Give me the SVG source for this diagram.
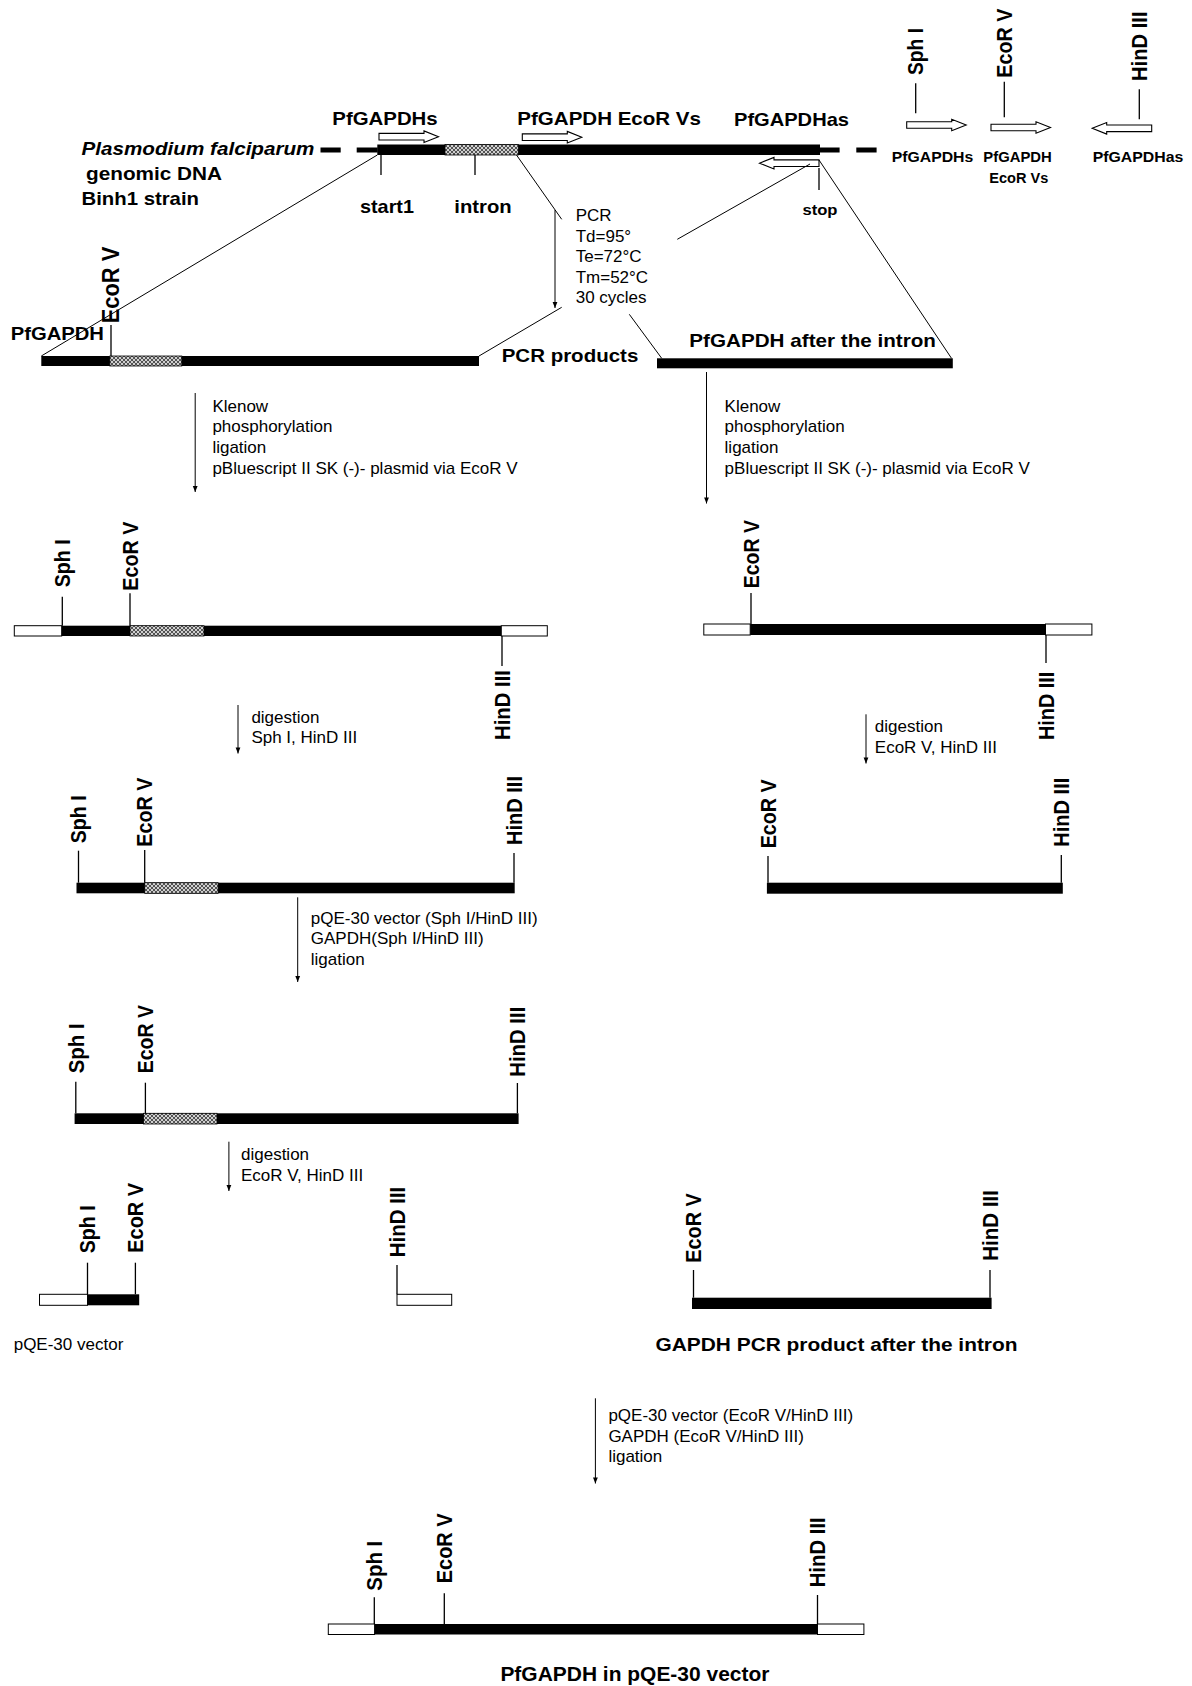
<svg xmlns="http://www.w3.org/2000/svg" width="1192" height="1686" viewBox="0 0 1192 1686">
<style>
.b{font-family:"Liberation Sans",Arial,sans-serif;font-weight:bold;fill:#000}
.r{font-family:"Liberation Sans",Arial,sans-serif;font-size:17px;fill:#000}
.lbl{font-size:18.6px}
.sm{font-size:15px}
.site{font-size:21.5px}
.ln{stroke:#000;stroke-width:1;fill:none}
.tick{stroke:#000;stroke-width:1.3}
.blk{fill:#000}
.wht{fill:#fff;stroke:#000;stroke-width:1}
.itr{fill:url(#hatch);stroke:#000;stroke-width:0.8}
.arr{stroke:#000;stroke-width:1;fill:none;marker-end:url(#ah)}
.pr{fill:#fff;stroke:#000;stroke-width:1.1}
</style>
<defs>
<pattern id="hatch" width="4" height="4" patternUnits="userSpaceOnUse">
<rect width="4" height="4" fill="#d0d0d0"/>
<path d="M0,0 L4,4 M4,0 L0,4" stroke="#333" stroke-width="0.8"/>
</pattern>
<marker id="ah" viewBox="0 0 10 10" refX="10" refY="5" markerWidth="7" markerHeight="6" orient="auto" markerUnits="userSpaceOnUse">
<path d="M0,1 L10,5 L0,9 Z" fill="#000"/>
</marker>
<path id="primer" d="M0,-3.3 H45 V-5.8 L59.5,0 L45,5.8 V3.3 H0 Z"/>
</defs>
<rect width="1192" height="1686" fill="#fff"/>

<!-- genomic DNA -->
<g id="genomic">
<text class="b lbl" x="81.5" y="155" font-style="italic" textLength="233" lengthAdjust="spacingAndGlyphs">Plasmodium falciparum</text>
<text class="b lbl" x="86" y="180" textLength="136" lengthAdjust="spacingAndGlyphs">genomic DNA</text>
<text class="b lbl" x="81.5" y="205" textLength="117.5" lengthAdjust="spacingAndGlyphs">Binh1 strain</text>
<rect class="blk" x="320.5" y="147.5" width="20.2" height="5"/>
<rect class="blk" x="356.7" y="147.5" width="21" height="5"/>
<rect class="blk" x="377.3" y="144.5" width="442.7" height="10.5"/>
<rect class="itr" x="445" y="144.5" width="73.3" height="10.5"/>
<rect class="blk" x="820" y="147.5" width="19.6" height="5"/>
<rect class="blk" x="856.3" y="147.5" width="20.3" height="5"/>
<line class="tick" x1="381" y1="155" x2="381" y2="175"/>
<line class="tick" x1="475" y1="155" x2="475" y2="175"/>
<line class="tick" x1="819" y1="168" x2="819" y2="190"/>
<text class="b lbl" x="360" y="212.7" textLength="54" lengthAdjust="spacingAndGlyphs">start1</text>
<text class="b lbl" x="454.3" y="212.7" textLength="57.4" lengthAdjust="spacingAndGlyphs">intron</text>
<text class="b sm" x="802.5" y="214.5" textLength="35" lengthAdjust="spacingAndGlyphs">stop</text>
<text class="b lbl" x="332.3" y="125" textLength="105.4" lengthAdjust="spacingAndGlyphs">PfGAPDHs</text>
<text class="b lbl" x="517.3" y="125" textLength="183.7" lengthAdjust="spacingAndGlyphs">PfGAPDH EcoR Vs</text>
<text class="b lbl" x="734" y="125.5" textLength="115" lengthAdjust="spacingAndGlyphs">PfGAPDHas</text>
<use href="#primer" class="pr" transform="translate(379,136.7)"/>
<use href="#primer" class="pr" transform="translate(522.3,137.2)"/>
<use href="#primer" class="pr" transform="translate(819,163.2) scale(-1,1)"/>
</g>

<!-- primer legend -->
<g id="legend">
<line class="tick" x1="915.7" y1="83.3" x2="915.7" y2="113.3"/>
<text class="b site" transform="translate(923.4,75) rotate(-90)" textLength="47" lengthAdjust="spacingAndGlyphs">Sph I</text>
<line class="tick" x1="1004.3" y1="81.7" x2="1004.3" y2="117.3"/>
<text class="b site" transform="translate(1012,77.7) rotate(-90)" textLength="69" lengthAdjust="spacingAndGlyphs">EcoR V</text>
<line class="tick" x1="1139.3" y1="89.3" x2="1139.3" y2="119.3"/>
<text class="b site" transform="translate(1147,81) rotate(-90)" textLength="69.5" lengthAdjust="spacingAndGlyphs">HinD III</text>
<use href="#primer" class="pr" transform="translate(906.7,125)"/>
<use href="#primer" class="pr" transform="translate(991,127.5)"/>
<use href="#primer" class="pr" transform="translate(1151.7,128.3) scale(-1,1)"/>
<text class="b sm" x="891.7" y="162" textLength="81.6" lengthAdjust="spacingAndGlyphs">PfGAPDHs</text>
<text class="b sm" x="983.3" y="162" textLength="68.4" lengthAdjust="spacingAndGlyphs">PfGAPDH</text>
<text class="b sm" x="989.3" y="183" textLength="59" lengthAdjust="spacingAndGlyphs">EcoR Vs</text>
<text class="b sm" x="1092.7" y="162" textLength="90.6" lengthAdjust="spacingAndGlyphs">PfGAPDHas</text>
</g>

<!-- PCR product with intron -->
<g id="pcr-intron">
<text class="b lbl" x="10.7" y="340" textLength="93.3" lengthAdjust="spacingAndGlyphs">PfGAPDH</text>
<line class="tick" x1="111" y1="325" x2="111" y2="356"/>
<text class="b" font-size="23" transform="translate(119.4,323.3) rotate(-90)" textLength="76.6" lengthAdjust="spacingAndGlyphs">EcoR V</text>
<rect class="blk" x="41.3" y="356" width="437.7" height="10"/>
<rect class="itr" x="109.8" y="356" width="72" height="10"/>
<text class="b lbl" x="501.7" y="361.7" textLength="136.6" lengthAdjust="spacingAndGlyphs">PCR products</text>
</g>

<!-- PCR product after intron -->
<g id="pcr-after">
<text class="b lbl" x="689.3" y="346.7" textLength="246.7" lengthAdjust="spacingAndGlyphs">PfGAPDH after the intron</text>
<rect class="blk" x="657" y="358.3" width="295.8" height="10"/>
</g>

<!-- pBluescript clone (intron) -->
<g id="pbs-intron">
<rect class="wht" x="14.3" y="625.7" width="47.4" height="10.3"/>
<rect class="blk" x="61.7" y="625.7" width="439.6" height="10.3"/>
<rect class="itr" x="130" y="625.7" width="74" height="10.3"/>
<rect class="wht" x="501.3" y="625.7" width="46" height="10.3"/>
<line class="tick" x1="62.3" y1="596.7" x2="62.3" y2="625.7"/>
<text class="b site" transform="translate(70,587.3) rotate(-90)" textLength="48" lengthAdjust="spacingAndGlyphs">Sph I</text>
<line class="tick" x1="130" y1="593.3" x2="130" y2="625.7"/>
<text class="b site" transform="translate(137.7,590.7) rotate(-90)" textLength="69" lengthAdjust="spacingAndGlyphs">EcoR V</text>
<line class="tick" x1="502" y1="636" x2="502" y2="666"/>
<text class="b site" transform="translate(509.7,740) rotate(-90)" textLength="70" lengthAdjust="spacingAndGlyphs">HinD III</text>
</g>

<!-- pBluescript clone (after intron) -->
<g id="pbs-after">
<rect class="wht" x="703.8" y="624" width="46.4" height="11"/>
<rect class="blk" x="750.2" y="624" width="295.3" height="11"/>
<rect class="wht" x="1045.5" y="624" width="46.4" height="11"/>
<line class="tick" x1="751" y1="593" x2="751" y2="624"/>
<text class="b site" transform="translate(758.7,588.3) rotate(-90)" textLength="68.3" lengthAdjust="spacingAndGlyphs">EcoR V</text>
<line class="tick" x1="1046" y1="635" x2="1046" y2="663"/>
<text class="b site" transform="translate(1053.7,740) rotate(-90)" textLength="68.3" lengthAdjust="spacingAndGlyphs">HinD III</text>
</g>

<!-- SphI/HindIII fragment -->
<g id="frag-sph">
<rect class="blk" x="76.5" y="882.7" width="438.2" height="10.6"/>
<rect class="itr" x="144.7" y="882.7" width="73.4" height="10.6"/>
<line class="tick" x1="78.5" y1="850.7" x2="78.5" y2="882.7"/>
<text class="b site" transform="translate(86.2,843.3) rotate(-90)" textLength="48" lengthAdjust="spacingAndGlyphs">Sph I</text>
<line class="tick" x1="144.7" y1="850" x2="144.7" y2="882.7"/>
<text class="b site" transform="translate(152.4,846.7) rotate(-90)" textLength="69" lengthAdjust="spacingAndGlyphs">EcoR V</text>
<line class="tick" x1="514" y1="853" x2="514" y2="882.7"/>
<text class="b site" transform="translate(521.7,845) rotate(-90)" textLength="69" lengthAdjust="spacingAndGlyphs">HinD III</text>
</g>

<!-- EcoRV/HindIII fragment (after intron) -->
<g id="frag-ecor">
<rect class="blk" x="766.9" y="882.7" width="295.9" height="11"/>
<line class="tick" x1="768" y1="856" x2="768" y2="882.7"/>
<text class="b site" transform="translate(775.7,848.3) rotate(-90)" textLength="69" lengthAdjust="spacingAndGlyphs">EcoR V</text>
<line class="tick" x1="1061.3" y1="855" x2="1061.3" y2="882.7"/>
<text class="b site" transform="translate(1069,846.7) rotate(-90)" textLength="69" lengthAdjust="spacingAndGlyphs">HinD III</text>
</g>

<!-- pQE-30 with intron -->
<g id="pqe-intron">
<rect class="blk" x="74.6" y="1113.3" width="444" height="10.7"/>
<rect class="itr" x="143.5" y="1113.3" width="73.5" height="10.7"/>
<line class="tick" x1="75.8" y1="1081.7" x2="75.8" y2="1113.3"/>
<text class="b site" transform="translate(83.5,1073.3) rotate(-90)" textLength="50" lengthAdjust="spacingAndGlyphs">Sph I</text>
<line class="tick" x1="145.4" y1="1082.7" x2="145.4" y2="1113.3"/>
<text class="b site" transform="translate(153.1,1073.3) rotate(-90)" textLength="68.3" lengthAdjust="spacingAndGlyphs">EcoR V</text>
<line class="tick" x1="517.4" y1="1083" x2="517.4" y2="1113.3"/>
<text class="b site" transform="translate(525.1,1076.7) rotate(-90)" textLength="70" lengthAdjust="spacingAndGlyphs">HinD III</text>
</g>

<!-- pQE-30 vector pieces -->
<g id="pqe-vector">
<rect class="wht" x="39.5" y="1294.3" width="48" height="11"/>
<rect class="blk" x="87.5" y="1294.3" width="51.7" height="11"/>
<line class="tick" x1="87.5" y1="1262.7" x2="87.5" y2="1294.3"/>
<text class="b site" transform="translate(95.2,1253.3) rotate(-90)" textLength="48" lengthAdjust="spacingAndGlyphs">Sph I</text>
<line class="tick" x1="135.4" y1="1262.7" x2="135.4" y2="1294.3"/>
<text class="b site" transform="translate(143.1,1252.7) rotate(-90)" textLength="69.7" lengthAdjust="spacingAndGlyphs">EcoR V</text>
<rect class="wht" x="397" y="1294.3" width="54.7" height="11"/>
<line class="tick" x1="397" y1="1265" x2="397" y2="1294.3"/>
<text class="b site" transform="translate(404.7,1257.3) rotate(-90)" textLength="70.6" lengthAdjust="spacingAndGlyphs">HinD III</text>
<text class="r" x="13.7" y="1350">pQE-30 vector</text>
</g>

<!-- GAPDH PCR product after intron (cut) -->
<g id="gapdh-cut">
<rect class="blk" x="692" y="1297.7" width="299.6" height="11.3"/>
<line class="tick" x1="693.5" y1="1270" x2="693.5" y2="1297.7"/>
<text class="b site" transform="translate(701.2,1262.7) rotate(-90)" textLength="69.4" lengthAdjust="spacingAndGlyphs">EcoR V</text>
<line class="tick" x1="990" y1="1270" x2="990" y2="1297.7"/>
<text class="b site" transform="translate(997.7,1260.7) rotate(-90)" textLength="70.7" lengthAdjust="spacingAndGlyphs">HinD III</text>
<text class="b" font-size="19" x="655.5" y="1350.7" textLength="362" lengthAdjust="spacingAndGlyphs">GAPDH PCR product after the intron</text>
</g>

<!-- final construct -->
<g id="final">
<rect class="wht" x="328.3" y="1624" width="46.3" height="10.5"/>
<rect class="blk" x="374.6" y="1624" width="442.9" height="10.5"/>
<rect class="wht" x="817.5" y="1624" width="46.4" height="10.5"/>
<line class="tick" x1="374.3" y1="1597.3" x2="374.3" y2="1624"/>
<text class="b site" transform="translate(382,1590.7) rotate(-90)" textLength="50" lengthAdjust="spacingAndGlyphs">Sph I</text>
<line class="tick" x1="444.3" y1="1593.3" x2="444.3" y2="1624"/>
<text class="b site" transform="translate(452,1583.3) rotate(-90)" textLength="70" lengthAdjust="spacingAndGlyphs">EcoR V</text>
<line class="tick" x1="817.5" y1="1595" x2="817.5" y2="1624"/>
<text class="b site" transform="translate(825.2,1587.3) rotate(-90)" textLength="70" lengthAdjust="spacingAndGlyphs">HinD III</text>
<text class="b" font-size="19.5" x="500.4" y="1681" textLength="269" lengthAdjust="spacingAndGlyphs">PfGAPDH in pQE-30 vector</text>
</g>

<!-- step annotations -->
<g id="step-pcr">
<text class="r" x="575.7" y="220.7">PCR</text>
<text class="r" x="575.7" y="241.5">Td=95°</text>
<text class="r" x="575.7" y="262.3">Te=72°C</text>
<text class="r" x="575.7" y="282.7">Tm=52°C</text>
<text class="r" x="575.7" y="303.3">30 cycles</text>
</g>
<g id="step-clone-left">
<text class="r" x="212.4" y="411.5">Klenow</text>
<text class="r" x="212.4" y="432.3">phosphorylation</text>
<text class="r" x="212.4" y="453">ligation</text>
<text class="r" x="212.4" y="473.8">pBluescript II SK (-)- plasmid via EcoR V</text>
</g>
<g id="step-clone-right">
<text class="r" x="724.6" y="411.5">Klenow</text>
<text class="r" x="724.6" y="432.3">phosphorylation</text>
<text class="r" x="724.6" y="453">ligation</text>
<text class="r" x="724.6" y="473.8">pBluescript II SK (-)- plasmid via EcoR V</text>
</g>
<g id="step-digest-left">
<text class="r" x="251.4" y="723.3">digestion</text>
<text class="r" x="251.4" y="743.3">Sph I, HinD III</text>
</g>
<g id="step-digest-right">
<text class="r" x="874.8" y="731.7">digestion</text>
<text class="r" x="874.8" y="752.7">EcoR V, HinD III</text>
</g>
<g id="step-ligate1">
<text class="r" x="310.8" y="923.5">pQE-30 vector (Sph I/HinD III)</text>
<text class="r" x="310.8" y="944">GAPDH(Sph I/HinD III)</text>
<text class="r" x="310.8" y="964.5">ligation</text>
</g>
<g id="step-digest2">
<text class="r" x="241" y="1160">digestion</text>
<text class="r" x="241" y="1180.7">EcoR V, HinD III</text>
</g>
<g id="step-ligate2">
<text class="r" x="608.4" y="1420.7">pQE-30 vector (EcoR V/HinD III)</text>
<text class="r" x="608.4" y="1441.7">GAPDH (EcoR V/HinD III)</text>
<text class="r" x="608.4" y="1461.7">ligation</text>
</g>

<!-- connectors -->
<g id="connectors">
<line class="ln" x1="377.3" y1="155" x2="41.3" y2="356"/>
<line class="ln" x1="516.5" y1="155" x2="561.7" y2="219.3"/>
<line class="ln" x1="561.7" y1="307.3" x2="479" y2="356"/>
<line class="ln" x1="810" y1="164" x2="677.3" y2="239.3"/>
<line class="ln" x1="819" y1="160" x2="951.5" y2="358.3"/>
<line class="ln" x1="629.3" y1="314.3" x2="661.7" y2="358.3"/>
<line class="arr" x1="555" y1="210" x2="555" y2="308"/>
<line class="arr" x1="195.2" y1="393" x2="195.2" y2="492"/>
<line class="arr" x1="706.5" y1="372" x2="706.5" y2="503.5"/>
<line class="arr" x1="238" y1="705" x2="238" y2="753.5"/>
<line class="arr" x1="866" y1="714.3" x2="866" y2="763.5"/>
<line class="arr" x1="297.7" y1="897.3" x2="297.7" y2="982"/>
<line class="arr" x1="228.9" y1="1141.7" x2="228.9" y2="1191"/>
<line class="arr" x1="595.4" y1="1398.3" x2="595.4" y2="1483.5"/>
</g>
</svg>
